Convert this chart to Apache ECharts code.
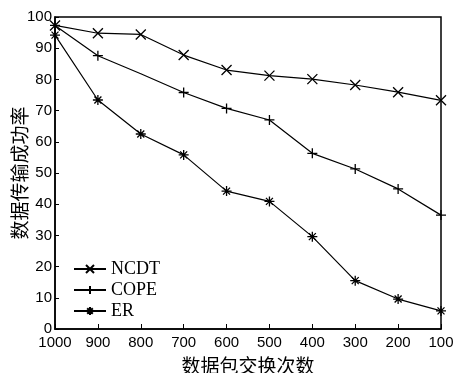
<!DOCTYPE html>
<html>
<head>
<meta charset="utf-8">
<script src="https://cdn.jsdelivr.net/npm/echarts@6/dist/echarts.min.js"></script>
<style>
  html, body { margin: 0; padding: 0; background: #fff; }
  #chart { width: 456px; height: 373px; }
</style>
</head>
<body>
<div id="chart"></div>
<script>
const categories = ['1000', '900', '800', '700', '600', '500', '400', '300', '200', '100']
const yTicks = [0, 10, 20, 30, 40, 50, 60, 70, 80, 90, 100]
const ncdt = [97.3, 94.8, 94.4, 87.8, 83.0, 81.2, 80.1, 78.2, 75.9, 73.3]
const cope = [97.3, 87.6, 81.8, 75.8, 70.7, 67.0, 56.3, 51.3, 44.9, 36.5]
const er = [94.2, 73.4, 62.5, 55.8, 44.2, 40.9, 29.6, 15.5, 9.6, 5.8]

const crossX = 'path://M0,0L10,10M10,0L0,10'
const plus = 'path://M5,0L5,10M0,5L10,5'
const star = 'path://M5,0L5,10M0,5L10,5M1.5,1.5L8.5,8.5M8.5,1.5L1.5,8.5'

const chart = echarts.init(document.getElementById('chart'))

function line(name, data, symbol) {
    return {
        name: name,
        type: 'line',
        data: data,
        symbol: symbol,
        symbolSize: 10,
        showSymbol: true,
        lineStyle: { color: '#000', width: 1.2 },
        itemStyle: { color: '#000', borderColor: '#000', borderWidth: 1.3 },
        emphasis: { disabled: true },
    }
}

// COPE has no visible marker at 800
const copeData = cope.map((v, i) => (i === 2 ? { value: v, symbolSize: 0 } : v))

chart.setOption({
    animation: false,
    grid: {
        left: 55,
        right: 15,
        top: 17,
        bottom: 44,
        outerBoundsMode: 'none',
        show: true,
        borderColor: '#000',
        borderWidth: 1.5,
        backgroundColor: 'transparent',
    },
    legend: {
        orient: 'vertical',
        left: 68,
        top: 255,
        itemWidth: 32,
        itemHeight: 10,
        itemGap: 3,
        textStyle: {
            fontFamily: 'Liberation Serif',
            fontSize: 18,
            color: '#000',
        },
        data: ['NCDT', 'COPE', 'ER'],
    },
    xAxis: {
        type: 'category',
        data: categories,
        boundaryGap: false,
        name: '数据包交换次数',
        nameLocation: 'middle',
        nameGap: 27,
        nameMoveOverlap: false,
        nameTextStyle: {
            fontFamily: 'Noto Sans CJK SC',
            fontSize: 19,
            color: '#000',
        },
        axisLine: { lineStyle: { color: '#000', width: 1.5 } },
        axisTick: { inside: true, length: 5, lineStyle: { color: '#000' } },
        axisLabel: {
            interval: 0,
            fontFamily: 'Liberation Sans',
            fontSize: 15,
            color: '#000',
            margin: 6,
        },
        splitLine: { show: false },
    },
    yAxis: {
        type: 'value',
        min: yTicks[0],
        max: yTicks[yTicks.length - 1],
        interval: 10,
        name: '数据传输成功率',
        nameLocation: 'middle',
        nameGap: 26,
        nameMoveOverlap: false,
        nameTextStyle: {
            fontFamily: 'Noto Sans CJK SC',
            fontSize: 19,
            color: '#000',
        },
        axisLine: { show: true, lineStyle: { color: '#000', width: 1.5 } },
        axisTick: { show: true, inside: true, length: 4, lineStyle: { color: '#000' } },
        axisLabel: {
            fontFamily: 'Liberation Sans',
            fontSize: 15,
            color: '#000',
            margin: 3,
        },
        splitLine: { show: false },
    },
    series: [
        line('NCDT', ncdt, crossX),
        line('COPE', copeData, plus),
        line('ER', er, star),
    ],
})
</script>
</body>
</html>
